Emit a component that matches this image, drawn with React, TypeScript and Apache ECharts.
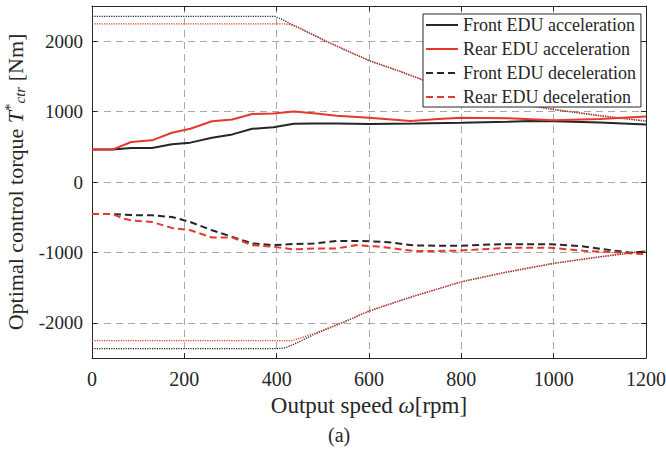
import React, { useEffect, useRef } from "react";
import * as echarts from "echarts";

// Output speed [rpm] and optimal control torque [Nm]
const frontAccSpeed = [0, 44, 85, 130, 173, 213, 260, 304, 347, 393, 437, 480, 530, 600, 700, 800, 900, 950, 1000, 1100, 1200];
const frontAccTorque = [460, 460, 483, 483, 535, 559, 629, 676, 756, 779, 826, 832, 832, 825, 830, 840, 855, 868, 862, 845, 818];

const rearAccSpeed = [0, 44, 85, 130, 173, 213, 260, 304, 347, 393, 437, 480, 530, 600, 690, 750, 800, 900, 1000, 1100, 1200];
const rearAccTorque = [460, 460, 568, 592, 700, 756, 863, 887, 965, 972, 1002, 975, 940, 911, 866, 895, 911, 905, 877, 895, 930];

const frontDecSpeed = [0, 44, 85, 130, 173, 213, 260, 304, 347, 393, 437, 480, 530, 600, 650, 694, 750, 800, 885, 993, 1058, 1124, 1167, 1200];
const frontDecTorque = [-455, -455, -470, -474, -497, -568, -686, -779, -873, -897, -880, -875, -838, -840, -860, -900, -905, -905, -883, -883, -911, -968, -1004, -990];

const rearDecSpeed = [0, 44, 69, 85, 130, 173, 213, 260, 304, 347, 393, 437, 480, 530, 571, 618, 700, 787, 863, 907, 993, 1065, 1108, 1193, 1200];
const rearDecTorque = [-455, -455, -520, -545, -568, -652, -686, -789, -789, -897, -920, -958, -944, -944, -897, -915, -982, -976, -950, -934, -934, -976, -990, -1024, -1024];

const frontMaxSpeed = [0, 397, 415, 430, 473, 509, 600, 668, 715, 800, 907, 1000, 1100, 1200];
const frontMaxTorque = [2352, 2352, 2300, 2245, 2108, 1990, 1722, 1568, 1451, 1290, 1131, 1028, 940, 863];

const rearMaxSpeed = [0, 420, 440, 473, 509, 600, 668, 715, 800, 907, 1000, 1100, 1200];
const rearMaxTorque = [2245, 2245, 2220, 2115, 1996, 1728, 1574, 1457, 1296, 1137, 1034, 946, 869];

const frontMinSpeed = [0, 400, 416, 437, 481, 546, 600, 668, 697, 800, 900, 1002, 1100, 1200];
const frontMinTorque = [-2366, -2366, -2360, -2306, -2165, -1990, -1835, -1686, -1624, -1420, -1280, -1155, -1065, -982];

const rearMinSpeed = [0, 433, 459, 490, 546, 600, 668, 697, 800, 900, 1002, 1100, 1200];
const rearMinTorque = [-2254, -2254, -2200, -2130, -1985, -1830, -1680, -1619, -1415, -1275, -1150, -1060, -977];

const xTicks = [0, 200, 400, 600, 800, 1000, 1200];
const legendNames = ["Front EDU acceleration", "Rear EDU acceleration", "Front EDU deceleration", "Rear EDU deceleration"];

const BLACK = "#262626";
const RED = "#e5392c";
const FONT = "'Liberation Serif', 'Times New Roman', serif";

const zip = (xs: number[], ys: number[]) => xs.map((x, i) => [x, ys[i]]);

export default function App() {
  const ref = useRef<HTMLDivElement>(null);
  useEffect(() => {
    if (!ref.current) return;
    const chart = echarts.init(ref.current, null, { renderer: "svg" });
    const line = (name: string, xs: number[], ys: number[], color: string, type: any, width: number, z = 2) => ({
      name,
      type: "line",
      data: zip(xs, ys),
      showSymbol: false,
      symbol: "none",
      z,
      lineStyle: { color, type, width },
      itemStyle: { color },
    });
    const gridLine = { show: true, lineStyle: { color: "#a8a8a8", type: [7, 5], width: 1 } };
    chart.setOption({
      animation: false,
      backgroundColor: "#fff",
      grid: { left: 92, right: 20, top: 6, bottom: 94, show: false, containLabel: false, outerBoundsMode: "none" },
      legend: {
        data: legendNames,
        orient: "vertical",
        left: 423,
        top: 14,
        backgroundColor: "#fff",
        borderColor: BLACK,
        borderWidth: 1,
        borderRadius: 0,
        padding: [2, 5, 1, 2],
        itemGap: 6,
        itemWidth: 32,
        itemHeight: 14,
        itemStyle: { opacity: 0, borderWidth: 0 },
        textStyle: { fontFamily: FONT, fontSize: 18, color: BLACK, lineHeight: 17 },
        z: 10,
      },
      xAxis: [
        {
          type: "value",
          min: 0,
          max: 1200,
          interval: 200,
          position: "bottom",
          axisLine: { show: true, onZero: false, lineStyle: { color: BLACK, width: 1 } },
          axisTick: { show: true, inside: true, length: 5, lineStyle: { color: BLACK } },
          axisLabel: {
            fontFamily: FONT,
            fontSize: 20,
            color: BLACK,
            margin: 11,
            formatter: (v: number) => (xTicks.includes(v) ? String(v) : ""),
          },
          splitLine: gridLine,
          name: "{n|Output speed }{i|ω}{n|[rpm]}",
          nameLocation: "middle",
          nameGap: 33,
          nameTextStyle: {
            fontFamily: FONT,
            fontSize: 23,
            color: BLACK,
            rich: {
              n: { fontFamily: FONT, fontSize: 23, color: BLACK },
              i: { fontFamily: FONT, fontSize: 23, color: BLACK, fontStyle: "italic" },
            },
          },
        },
        {
          type: "value",
          min: 0,
          max: 1200,
          interval: 200,
          position: "top",
          axisLine: { show: true, onZero: false, lineStyle: { color: BLACK, width: 1 } },
          axisTick: { show: true, inside: true, length: 5, lineStyle: { color: BLACK } },
          axisLabel: { show: false },
          splitLine: { show: false },
        },
      ],
      yAxis: [
        {
          type: "value",
          min: -2500,
          max: 2500,
          splitNumber: 5,
          position: "left",
          axisLine: { show: true, onZero: false, lineStyle: { color: BLACK, width: 1 } },
          axisTick: { show: true, inside: true, length: 5, lineStyle: { color: BLACK } },
          axisLabel: {
            fontFamily: FONT,
            fontSize: 19,
            color: BLACK,
            margin: 9,
            formatter: (v: number) => (v % 1000 === 0 ? String(v) : ""),
          },
          splitLine: gridLine,
          name: "{n|Optimal control torque }{i|T}{s|*}{b|ctr}{n| [Nm]}",
          nameLocation: "middle",
          nameGap: 58,
          nameRotate: 90,
          nameTextStyle: {
            fontFamily: FONT,
            fontSize: 22,
            color: BLACK,
            rich: {
              n: { fontFamily: FONT, fontSize: 22, color: BLACK, lineHeight: 25 },
              i: { fontFamily: FONT, fontSize: 22, color: BLACK, fontStyle: "italic", lineHeight: 25 },
              s: { fontFamily: FONT, fontSize: 15, color: BLACK, verticalAlign: "top", lineHeight: 13 },
              b: { fontFamily: FONT, fontSize: 15, color: BLACK, fontStyle: "italic", verticalAlign: "bottom", lineHeight: 13 },
            },
          },
        },
        {
          type: "value",
          min: -2500,
          max: 2500,
          splitNumber: 5,
          position: "right",
          axisLine: { show: true, onZero: false, lineStyle: { color: BLACK, width: 1 } },
          axisTick: { show: true, inside: true, length: 5, lineStyle: { color: BLACK } },
          axisLabel: { show: false },
          splitLine: { show: false },
        },
      ],
      series: [
        line("Front EDU max", frontMaxSpeed, frontMaxTorque, BLACK, [1.2, 1.2], 1.3, 1),
        line("Rear EDU max", rearMaxSpeed, rearMaxTorque, RED, [1.2, 1.2], 1.3, 1),
        line("Front EDU min", frontMinSpeed, frontMinTorque, BLACK, [1.2, 1.2], 1.3, 1),
        line("Rear EDU min", rearMinSpeed, rearMinTorque, RED, [1.2, 1.2], 1.3, 1),
        line(legendNames[0], frontAccSpeed, frontAccTorque, BLACK, "solid", 2),
        line(legendNames[1], rearAccSpeed, rearAccTorque, RED, "solid", 2),
        line(legendNames[2], frontDecSpeed, frontDecTorque, BLACK, [7, 4], 2),
        line(legendNames[3], rearDecSpeed, rearDecTorque, RED, [7, 4], 2),
      ],
      graphic: [
        {
          type: "text",
          left: 328,
          top: 425,
          style: { text: "(a)", fontFamily: FONT, fontSize: 20, fill: BLACK },
        },
      ],
    });
    return () => chart.dispose();
  }, []);
  return <div ref={ref} style={{ position: "fixed", left: 0, top: 0, width: 666, height: 452 }} />;
}
